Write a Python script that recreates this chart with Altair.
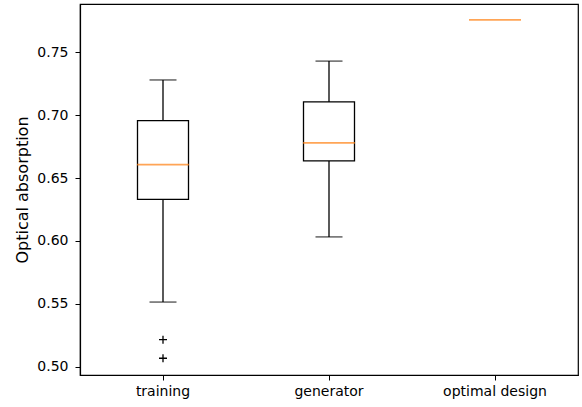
import altair as alt
import pandas as pd

categories = ["training", "generator", "optimal design"]
q1 = [0.633, 0.6636, 0.7757]
q3 = [0.6956, 0.7105, 0.7757]
medians = [0.6606, 0.6779, 0.7757]
whisker_low = [0.5514, 0.6032, 0.7757]
whisker_high = [0.728, 0.743, 0.7757]
outlier_cat = ["training", "training"]
outlier_val = [0.5215, 0.5067]

stats = pd.DataFrame({
    "cat": categories, "q1": q1, "q3": q3, "med": medians,
    "lo": whisker_low, "hi": whisker_high,
})
outl = pd.DataFrame({"cat": outlier_cat, "v": outlier_val})

FONT = "DejaVu Sans"
x = alt.X("cat:N", sort=categories,
          scale=alt.Scale(domain=categories, paddingInner=0, paddingOuter=0),
          axis=alt.Axis(title=None, labelAngle=0, labelPadding=4, labelFontSize=14))
yscale = alt.Scale(domain=[0.4934, 0.7884], nice=False, zero=False)
yaxis = alt.Axis(title="Optical absorption", values=[0.5, 0.55, 0.6, 0.65, 0.7, 0.75],
                 format=".2f", labelPadding=7, titlePadding=6,
                 labelFontSize=14, titleFontSize=16)

base = alt.Chart(stats)
nonflat = base.transform_filter("datum.q3 > datum.q1")

whisk_lo = nonflat.mark_rule(color="black", strokeWidth=1.3).encode(
    x=x, y=alt.Y("lo:Q", scale=yscale, axis=yaxis), y2="q1:Q")
whisk_hi = nonflat.mark_rule(color="black", strokeWidth=1.3).encode(
    x=x, y=alt.Y("q3:Q", scale=yscale), y2="hi:Q")
cap_lo = nonflat.mark_tick(color="black", size=27, thickness=1.3).encode(
    x=x, y=alt.Y("lo:Q", scale=yscale))
cap_hi = nonflat.mark_tick(color="black", size=27, thickness=1.3).encode(
    x=x, y=alt.Y("hi:Q", scale=yscale))
box = nonflat.mark_bar(size=51, fill="white", stroke="black", strokeWidth=1.3).encode(
    x=x, y=alt.Y("q1:Q", scale=yscale), y2="q3:Q")
med = base.mark_tick(color="#ff7f0e", size=52, thickness=1.8).encode(
    x=x, y=alt.Y("med:Q", scale=yscale))
pts = alt.Chart(outl).mark_point(
    shape="M-1,0L1,0M0,-1L0,1", size=64, filled=False, stroke="black",
    strokeWidth=1.3, opacity=1).encode(
    x=x, y=alt.Y("v:Q", scale=yscale))

chart = alt.layer(whisk_lo, whisk_hi, cap_lo, cap_hi, box, med, pts).properties(
    width=498, height=371,
    padding={"left": 80, "top": 4, "right": 4, "bottom": 28},
    autosize=alt.AutoSizeParams(type="none"),
    background="white",
).configure_view(stroke="black", strokeWidth=1.2).configure_axis(
    grid=False, domainColor="black", tickColor="black", labelColor="black",
    titleColor="black", labelFont=FONT, titleFont=FONT,
    titleFontWeight="normal", tickSize=5, domainWidth=1.2,
)

chart.save("out.html", embed_options={"renderer": "svg", "actions": False})
